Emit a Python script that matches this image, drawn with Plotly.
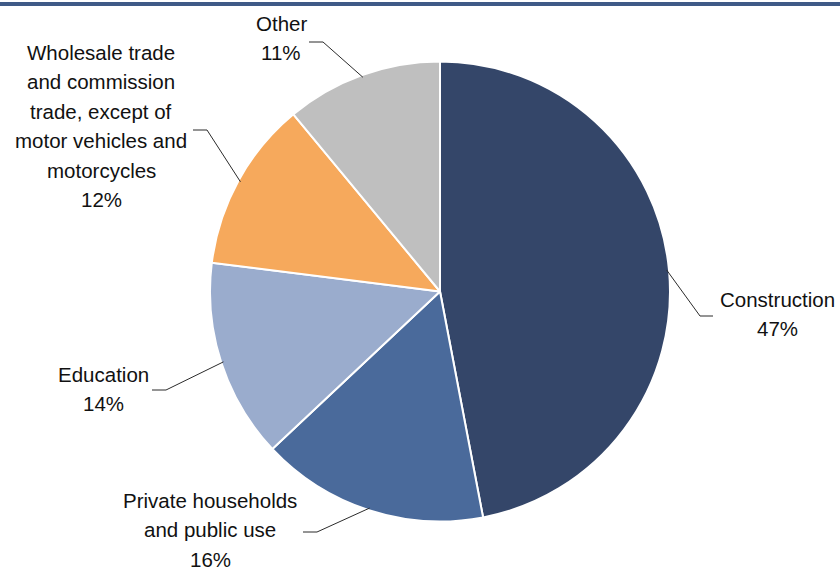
import math
import plotly.graph_objects as go

W, H = 840, 572

# Sector breakdown (share of total, %)
sectors = ["Construction", "Private households and public use", "Education",
           "Wholesale trade and commission trade, except of motor vehicles and motorcycles",
           "Other"]
shares = [47, 16, 14, 12, 11]
colors = ["#344669", "#4a6a9b", "#9aaccd", "#f6a95c", "#bfbfbf"]

# Text lines for each outside label (name lines, then percentage)
label_lines = [
    ["Construction"],
    ["Private households", "and public use"],
    ["Education"],
    ["Wholesale trade", "and commission", "trade, except of", "motor vehicles and", "motorcycles"],
    ["Other"],
]

# Label placement in pixels: text centre x, first line y, leader knee, leader end
label_pos = [
    (777, 299, (700, 316), (713, 316)),
    (210, 500, (317, 532), (303, 532)),
    (103, 374, (166, 390), (152, 390)),
    (101, 52, (207, 130), (193, 130)),
    (281, 23, (323, 42), (309, 42)),
]
LINE_STEP = 29.5

# Pie geometry in pixels
CX, CY, R = 440, 291.5, 230


def px(x):
    return x / W


def py(y):
    return 1 - y / H


fig = go.Figure(go.Pie(
    labels=sectors,
    values=shares,
    sort=False,
    direction="clockwise",
    rotation=0,
    marker=dict(colors=colors, line=dict(color="white", width=2)),
    textinfo="none",
    hoverinfo="label+percent",
    showlegend=False,
    domain=dict(x=[px(CX - R), px(CX + R)], y=[py(CY + R), py(CY - R)]),
))

shapes = []
annotations = []
total = sum(shares)
cum = 0.0
for lines, share, (tx, ty, knee, end) in zip(label_lines, shares, label_pos):
    mid = (cum + share / 2) / total * 2 * math.pi
    cum += share
    ex = CX + R * 0.99 * math.sin(mid)
    ey = CY - R * 0.99 * math.cos(mid)
    path = f"M {px(ex)},{py(ey)} L {px(knee[0])},{py(knee[1])} L {px(end[0])},{py(end[1])}"
    shapes.append(dict(type="path", xref="paper", yref="paper", path=path,
                       line=dict(color="#2b2b2b", width=1)))
    for i, text in enumerate(lines + [f"{share}%"]):
        annotations.append(dict(
            x=px(tx), y=py(ty + i * LINE_STEP), xref="paper", yref="paper",
            text=text, showarrow=False, xanchor="center", yanchor="middle",
            font=dict(family="Liberation Sans, Arial, sans-serif", size=20.5, color="#111111"),
        ))

# Top rule
shapes.append(dict(type="rect", xref="paper", yref="paper",
                   x0=0, x1=1, y0=py(6), y1=py(2),
                   fillcolor="#3f5a87", line=dict(width=0), layer="above"))

fig.update_layout(
    width=W, height=H,
    margin=dict(l=0, r=0, t=0, b=0),
    paper_bgcolor="white",
    plot_bgcolor="white",
    shapes=shapes,
    annotations=annotations,
)

fig.write_html("out.html")
